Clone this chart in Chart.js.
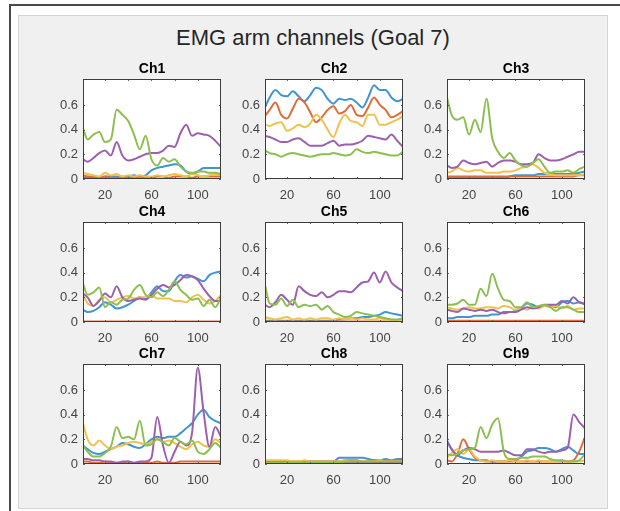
<!DOCTYPE html>
<html>
<head>
<meta charset="utf-8">
<script src="https://cdn.jsdelivr.net/npm/chart.js@4.4.0/dist/chart.umd.min.js"></script>
<style>
  html, body { margin: 0; padding: 0; background: #fff; }
  body { width: 620px; height: 511px; position: relative; overflow: hidden; font-family: "Liberation Sans", Arial, sans-serif; }
  #frame { position: absolute; left: 9px; top: 4px; width: 640px; height: 540px; border-left: 2px solid #4a4a4a; border-top: 2px solid #4a4a4a; }
  #panel { position: absolute; left: 18px; top: 15px; width: 588px; height: 492px; background: #f0f0f0; border: 1px solid #d4d4d4; }
  #title { position: absolute; left: 18px; width: 590px; top: 25px; text-align: center; font-size: 22px; color: #262626; }
  canvas.sub { position: absolute; }
</style>
</head>
<body>
<div id="frame"></div>
<div id="panel"></div>
<div id="title">EMG arm channels (Goal 7)</div>

<script>
// =====================================================
// DATA (x = sample index, 5 traces per channel)
// =====================================================
const xs = [1, 5, 10, 15, 20, 25, 30, 35, 40, 45, 50, 55, 60, 65, 70, 75, 80, 85, 90, 95, 100, 105, 110, 115, 120];
const xTickValues = [20, 40, 60, 80, 100];
const xTickLabels = [20, 60, 100];
const yTickValues = [0, 0.2, 0.4, 0.6];
const channelNames = ["Ch1", "Ch2", "Ch3", "Ch4", "Ch5", "Ch6", "Ch7", "Ch8", "Ch9"];

// trace order in every channel: blue, orange, yellow, purple, green
const ch1 = [
    [0.01,0.01,0.01,0.01,0.02,0.02,0.02,0.01,0.02,0.03,0.02,0.03,0.07,0.09,0.10,0.11,0.12,0.11,0.06,0.04,0.06,0.09,0.09,0.09,0.09],
    [0.03,0.02,0.02,0.01,0.02,0.01,0.01,0.02,0.01,0.01,0.02,0.01,0.01,0.02,0.02,0.01,0.02,0.02,0.02,0.01,0.02,0.02,0.02,0.02,0.02],
    [0.05,0.04,0.03,0.02,0.05,0.03,0.04,0.02,0.03,0.02,0.03,0.02,0.02,0.03,0.02,0.03,0.04,0.03,0.02,0.04,0.03,0.02,0.03,0.04,0.03],
    [0.16,0.14,0.17,0.21,0.23,0.19,0.30,0.19,0.15,0.16,0.18,0.20,0.21,0.21,0.23,0.27,0.26,0.37,0.44,0.35,0.37,0.36,0.35,0.31,0.26],
    [0.41,0.32,0.36,0.38,0.30,0.32,0.56,0.52,0.47,0.36,0.24,0.35,0.16,0.11,0.17,0.14,0.16,0.10,0.06,0.05,0.06,0.06,0.05,0.05,0.04]
];
const ch2 = [
    [0.58,0.66,0.72,0.68,0.67,0.71,0.67,0.63,0.68,0.74,0.72,0.65,0.61,0.65,0.64,0.65,0.62,0.58,0.66,0.76,0.72,0.72,0.66,0.63,0.65],
    [0.51,0.56,0.62,0.52,0.49,0.57,0.65,0.62,0.54,0.46,0.50,0.56,0.59,0.53,0.55,0.60,0.52,0.51,0.58,0.66,0.60,0.56,0.50,0.52,0.55],
    [0.44,0.43,0.45,0.46,0.39,0.41,0.44,0.42,0.45,0.52,0.48,0.40,0.34,0.45,0.52,0.47,0.46,0.43,0.52,0.52,0.44,0.44,0.46,0.48,0.51],
    [0.35,0.34,0.32,0.30,0.30,0.32,0.33,0.30,0.27,0.27,0.27,0.29,0.31,0.27,0.28,0.28,0.29,0.31,0.35,0.34,0.33,0.32,0.36,0.31,0.26],
    [0.23,0.21,0.20,0.18,0.20,0.21,0.20,0.19,0.18,0.19,0.20,0.20,0.21,0.20,0.19,0.20,0.24,0.22,0.21,0.22,0.21,0.20,0.19,0.19,0.22]
];
const ch3 = [
    [0.01,0.01,0.01,0.01,0.01,0.01,0.01,0.01,0.01,0.01,0.01,0.02,0.03,0.03,0.03,0.03,0.04,0.04,0.05,0.04,0.04,0.04,0.04,0.05,0.06],
    [0.02,0.02,0.02,0.02,0.02,0.02,0.02,0.02,0.02,0.02,0.02,0.02,0.02,0.02,0.02,0.02,0.02,0.02,0.02,0.02,0.02,0.02,0.02,0.03,0.03],
    [0.05,0.06,0.09,0.07,0.06,0.07,0.07,0.05,0.05,0.05,0.06,0.06,0.07,0.09,0.10,0.12,0.09,0.05,0.04,0.03,0.03,0.03,0.03,0.03,0.04],
    [0.11,0.09,0.10,0.15,0.13,0.12,0.13,0.14,0.10,0.13,0.15,0.15,0.14,0.12,0.12,0.13,0.20,0.17,0.15,0.15,0.16,0.18,0.20,0.22,0.22],
    [0.66,0.52,0.48,0.50,0.36,0.48,0.38,0.65,0.33,0.22,0.17,0.21,0.15,0.11,0.10,0.13,0.16,0.10,0.05,0.06,0.06,0.07,0.05,0.08,0.10]
];
const ch4 = [
    [0.10,0.08,0.09,0.12,0.16,0.14,0.11,0.12,0.14,0.17,0.20,0.19,0.24,0.29,0.25,0.25,0.33,0.38,0.36,0.37,0.35,0.33,0.38,0.40,0.41],
    [0.005,0.005,0.005,0.005,0.005,0.005,0.005,0.005,0.005,0.005,0.005,0.005,0.005,0.005,0.005,0.005,0.005,0.005,0.005,0.005,0.005,0.005,0.005,0.005,0.005],
    [0.22,0.15,0.13,0.18,0.20,0.16,0.18,0.20,0.21,0.19,0.20,0.20,0.22,0.19,0.19,0.19,0.17,0.17,0.16,0.20,0.22,0.18,0.15,0.17,0.22],
    [0.23,0.20,0.13,0.17,0.23,0.20,0.29,0.20,0.17,0.18,0.19,0.18,0.22,0.27,0.30,0.28,0.30,0.34,0.38,0.37,0.34,0.27,0.21,0.17,0.17],
    [0.31,0.22,0.24,0.28,0.12,0.16,0.14,0.18,0.19,0.26,0.30,0.22,0.20,0.24,0.21,0.26,0.33,0.26,0.22,0.18,0.19,0.13,0.18,0.12,0.20]
];
const ch5 = [
    [0.01,0.01,0.01,0.01,0.01,0.01,0.01,0.01,0.01,0.01,0.01,0.01,0.01,0.02,0.02,0.03,0.03,0.04,0.04,0.05,0.06,0.08,0.07,0.06,0.05],
    [0.005,0.005,0.005,0.005,0.005,0.005,0.005,0.005,0.005,0.005,0.005,0.005,0.005,0.005,0.005,0.005,0.005,0.005,0.005,0.005,0.005,0.005,0.005,0.005,0.005],
    [0.04,0.03,0.02,0.03,0.04,0.02,0.03,0.02,0.03,0.02,0.03,0.03,0.02,0.03,0.02,0.03,0.02,0.03,0.02,0.02,0.03,0.02,0.02,0.01,0.02],
    [0.14,0.12,0.16,0.22,0.18,0.14,0.29,0.25,0.22,0.21,0.24,0.20,0.22,0.25,0.25,0.24,0.28,0.32,0.33,0.40,0.32,0.41,0.32,0.28,0.25],
    [0.30,0.15,0.14,0.19,0.13,0.18,0.12,0.14,0.13,0.14,0.10,0.13,0.08,0.06,0.04,0.05,0.08,0.07,0.06,0.05,0.04,0.03,0.02,0.02,0.03]
];
const ch6 = [
    [0.03,0.03,0.04,0.04,0.04,0.05,0.05,0.05,0.06,0.06,0.08,0.08,0.09,0.11,0.15,0.14,0.12,0.13,0.13,0.12,0.16,0.17,0.15,0.16,0.14],
    [0.01,0.01,0.01,0.01,0.01,0.01,0.01,0.01,0.01,0.01,0.01,0.01,0.01,0.01,0.01,0.01,0.01,0.01,0.01,0.01,0.01,0.01,0.01,0.01,0.01],
    [0.12,0.11,0.10,0.11,0.12,0.11,0.11,0.12,0.12,0.11,0.13,0.12,0.10,0.11,0.10,0.12,0.11,0.13,0.12,0.13,0.11,0.13,0.10,0.11,0.11],
    [0.10,0.09,0.08,0.11,0.10,0.09,0.10,0.09,0.10,0.08,0.07,0.08,0.08,0.10,0.12,0.11,0.12,0.14,0.14,0.14,0.17,0.15,0.20,0.16,0.15],
    [0.14,0.14,0.15,0.18,0.14,0.14,0.27,0.21,0.39,0.27,0.18,0.17,0.12,0.12,0.16,0.12,0.13,0.14,0.12,0.09,0.12,0.12,0.10,0.08,0.08]
];
const ch7 = [
    [0.15,0.12,0.09,0.08,0.10,0.12,0.14,0.17,0.16,0.14,0.13,0.16,0.20,0.22,0.21,0.22,0.22,0.25,0.29,0.33,0.40,0.44,0.38,0.35,0.33],
    [0.02,0.02,0.01,0.01,0.02,0.01,0.01,0.01,0.02,0.01,0.01,0.01,0.01,0.02,0.01,0.01,0.01,0.02,0.02,0.02,0.02,0.02,0.02,0.02,0.02],
    [0.33,0.20,0.15,0.19,0.15,0.12,0.14,0.15,0.17,0.18,0.17,0.16,0.18,0.20,0.18,0.19,0.17,0.14,0.12,0.16,0.18,0.15,0.14,0.20,0.17],
    [0.04,0.04,0.03,0.03,0.02,0.02,0.01,0.02,0.02,0.01,0.02,0.02,0.05,0.38,0.15,0.01,0.10,0.18,0.15,0.25,0.78,0.42,0.14,0.30,0.22],
    [0.15,0.10,0.06,0.06,0.09,0.14,0.30,0.21,0.22,0.20,0.35,0.15,0.16,0.20,0.18,0.15,0.21,0.18,0.16,0.19,0.10,0.08,0.12,0.17,0.13]
];
const ch8 = [
    [0.02,0.02,0.01,0.02,0.02,0.01,0.01,0.02,0.02,0.02,0.02,0.02,0.02,0.05,0.05,0.05,0.05,0.05,0.04,0.03,0.03,0.04,0.03,0.04,0.04],
    [0.02,0.02,0.02,0.02,0.02,0.02,0.02,0.02,0.02,0.02,0.02,0.02,0.02,0.02,0.03,0.03,0.03,0.02,0.02,0.03,0.02,0.03,0.02,0.03,0.02],
    [0.03,0.03,0.03,0.03,0.03,0.02,0.02,0.03,0.02,0.02,0.02,0.02,0.02,0.02,0.03,0.02,0.02,0.02,0.02,0.02,0.03,0.02,0.02,0.02,0.02],
    [0.01,0.01,0.01,0.01,0.01,0.01,0.01,0.01,0.01,0.01,0.01,0.01,0.01,0.01,0.01,0.01,0.01,0.01,0.01,0.01,0.01,0.01,0.01,0.01,0.01],
    [0.01,0.01,0.01,0.01,0.01,0.01,0.01,0.01,0.01,0.01,0.01,0.01,0.01,0.01,0.02,0.02,0.02,0.02,0.02,0.02,0.02,0.02,0.02,0.02,0.02]
];
const ch9 = [
    [0.19,0.12,0.07,0.05,0.04,0.03,0.03,0.03,0.02,0.02,0.02,0.03,0.03,0.06,0.10,0.11,0.13,0.13,0.12,0.10,0.12,0.14,0.11,0.08,0.08],
    [0.03,0.02,0.08,0.20,0.12,0.05,0.03,0.02,0.02,0.02,0.02,0.02,0.02,0.02,0.02,0.02,0.02,0.02,0.02,0.02,0.02,0.02,0.03,0.10,0.22],
    [0.05,0.09,0.12,0.08,0.12,0.06,0.03,0.02,0.03,0.02,0.02,0.03,0.02,0.02,0.03,0.02,0.03,0.02,0.02,0.02,0.03,0.02,0.02,0.02,0.03],
    [0.18,0.12,0.07,0.11,0.13,0.12,0.10,0.10,0.10,0.10,0.11,0.09,0.07,0.07,0.12,0.12,0.10,0.09,0.10,0.10,0.11,0.13,0.40,0.34,0.29],
    [0.08,0.07,0.08,0.11,0.12,0.13,0.30,0.21,0.32,0.37,0.10,0.04,0.04,0.05,0.05,0.06,0.06,0.06,0.04,0.03,0.03,0.02,0.02,0.03,0.08]
];
const channels = [ch1, ch2, ch3, ch4, ch5, ch6, ch7, ch8, ch9];

// =====================================================
// LOOK
// =====================================================
const lineColors = ['#4195d2', '#df6d3b', '#eec24f', '#9d60ad', '#8dbf50'];
const colLeft = [83, 265, 447];
const rowTop = [79, 222, 364];
const FONT = '"Liberation Sans", Arial, sans-serif';

// white plot area + dark box + inward ticks, MATLAB style
const axesBox = {
    id: 'axesBox',
    beforeDraw(chart) {
        const { ctx, chartArea: a } = chart;
        ctx.save();
        ctx.fillStyle = '#ffffff';
        ctx.fillRect(a.left, a.top, a.width, a.height);
        ctx.restore();
    },
    afterDatasetsDraw(chart) {
        const { ctx, chartArea: a, scales } = chart;
        ctx.save();
        ctx.strokeStyle = '#666';
        ctx.lineWidth = 1;
        ctx.beginPath();
        xTickValues.forEach(v => {
            const px = Math.round(scales.x.getPixelForValue(v)) + 0.5;
            ctx.moveTo(px, a.bottom); ctx.lineTo(px, a.bottom - 2);
            ctx.moveTo(px, a.top); ctx.lineTo(px, a.top + 2);
        });
        yTickValues.forEach(v => {
            const py = Math.round(scales.y.getPixelForValue(v)) + 0.5;
            ctx.moveTo(a.left, py); ctx.lineTo(a.left + 2, py);
            ctx.moveTo(a.right, py); ctx.lineTo(a.right - 2, py);
        });
        ctx.stroke();
        ctx.strokeStyle = '#3c3c3c';
        ctx.strokeRect(a.left + 0.5, a.top + 0.5, a.width - 1, a.height - 1);
        ctx.restore();
    }
};

function makeChart(idx) {
    const col = idx % 3, row = Math.floor(idx / 3);
    const canvas = document.createElement('canvas');
    canvas.className = 'sub';
    canvas.width = 190;
    canvas.height = 154;
    canvas.style.left = (colLeft[col] - 45) + 'px';
    canvas.style.top = (rowTop[row] - 24) + 'px';
    document.body.appendChild(canvas);

    const tickFont = { family: FONT, size: 13 };

    new Chart(canvas, {
        type: 'line',
        data: {
            datasets: channels[idx].map((ys, i) => ({
                data: xs.map((x, j) => ({ x: x, y: ys[j] })),
                borderColor: lineColors[i],
                borderWidth: 2,
                pointRadius: 0,
                cubicInterpolationMode: 'monotone',
                order: 5 - i
            }))
        },
        options: {
            responsive: false,
            animation: false,
            devicePixelRatio: 1,
            layout: { padding: { right: 7 } },
            plugins: {
                legend: { display: false },
                tooltip: { enabled: false },
                title: {
                    display: true,
                    fullSize: false,
                    text: channelNames[idx],
                    color: '#000',
                    font: { family: FONT, size: 14, weight: 'bold', lineHeight: '14px' },
                    padding: { top: 7, bottom: 3 }
                }
            },
            scales: {
                x: {
                    type: 'linear',
                    min: 1,
                    max: 120,
                    afterBuildTicks: s => { s.ticks = xTickValues.map(v => ({ value: v })); },
                    afterFit: s => { s.height = 30; },
                    grid: { display: false, drawTicks: false },
                    border: { display: false },
                    ticks: {
                        padding: 9,
                        color: '#454545',
                        font: tickFont,
                        maxRotation: 0,
                        autoSkip: false,
                        callback: v => xTickLabels.includes(v) ? String(v) : ''
                    }
                },
                y: {
                    min: 0,
                    max: 0.81,
                    afterBuildTicks: s => { s.ticks = yTickValues.map(v => ({ value: v })); },
                    afterFit: s => { s.width = 45; },
                    grid: { display: false, drawTicks: false },
                    border: { display: false },
                    ticks: {
                        padding: 5,
                        color: '#454545',
                        font: tickFont,
                        callback: v => v === 0 ? '0' : v.toFixed(1)
                    }
                }
            }
        },
        plugins: [axesBox]
    });
}

channels.forEach((_, i) => makeChart(i));
</script>
</body>
</html>
